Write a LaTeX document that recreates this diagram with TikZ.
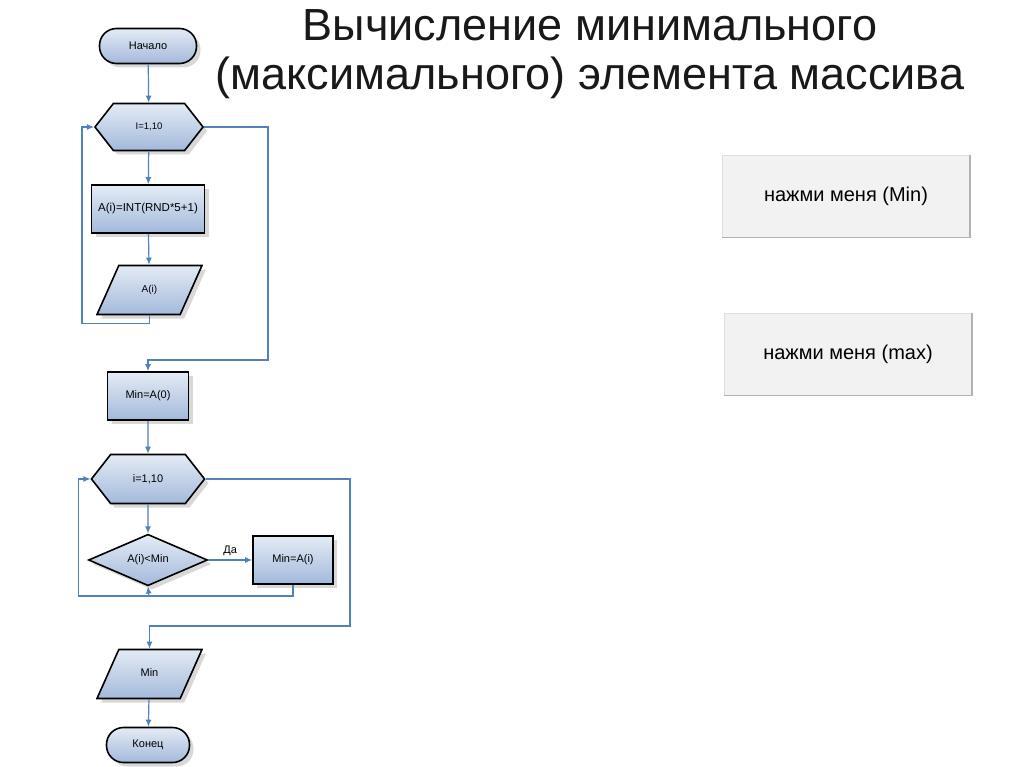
\documentclass[tikz,border=0pt]{standalone}
\usepackage{fontspec}
\setmainfont{Liberation Sans}
\usetikzlibrary{shapes.geometric,shapes.symbols,shadows,arrows.meta}
\definecolor{lineblue}{HTML}{4F81BD}
\definecolor{boxtop}{HTML}{E4EBF5}
\definecolor{boxbot}{HTML}{A3B9DB}
\begin{document}
\begin{tikzpicture}[x=1pt, y=-1pt,
  main/.style = {draw=black, line width=1.6pt, top color=boxtop, bottom color=boxbot,
    drop shadow={shadow xshift=4pt, shadow yshift=-4pt, opacity=0.3},
    font=\fontsize{11}{13}\selectfont, inner sep=0pt},
  term/.style = {main, rectangle, rounded corners=17pt, minimum width=97pt, minimum height=35pt},
  proc/.style = {main, rectangle, minimum height=48pt},
  loop/.style = {main, signal, signal to=west and east, signal pointer angle=104,
    minimum width=108pt, minimum height=47pt},
  io/.style = {main, trapezium, trapezium left angle=66, trapezium right angle=114,
    trapezium stretches body, text height=8pt, text depth=2.5pt, inner ysep=19.25pt,
    minimum width=105pt},
  cond/.style = {main, diamond, minimum width=119pt, minimum height=48pt},
  btn/.style = {rectangle, fill=gray!10, draw=gray!25, line width=0.8pt,
    minimum width=247pt, minimum height=82pt, font=\fontsize{20}{24}\selectfont},
  arr/.style = {draw=lineblue, line width=1.2pt, -{Latex[length=7pt,width=6pt]}},
  line/.style = {draw=lineblue, line width=1.2pt}]
\useasboundingbox[fill=white] (0,0) rectangle (1024,767);

\node[font=\fontsize{45}{49}\selectfont, text=black!90, align=center, anchor=base] (0) at (590,90)
  {Вычисление минимального\\(максимального) элемента массива};

\node[term] (1) at (148,46) {Начало};
\node[loop, font=\fontsize{9.5}{11}\selectfont] (2) at (149,127) {I=1,10};
\node[proc, minimum width=113pt, font=\fontsize{11.5}{14}\selectfont] (3) at (148,209) {A(i)=INT(RND*5+1)};
\node[io, font=\fontsize{10}{12}\selectfont] (4) at (149.5,290) {A(i)};
\node[proc, minimum width=81pt] (5) at (148,396) {Min=A(0)};
\node[loop, minimum width=113pt, minimum height=49pt] (6) at (148,479) {i=1,10};
\node[cond] (7) at (148,560) {A(i)<Min};
\node[proc, minimum width=80pt] (8) at (293,560) {Min=A(i)};
\node[io] (9) at (149.5,674) {Min};
\node[term, minimum width=83pt] (10) at (148,745) {Конец};

\node[btn] (11) at (846,196) {нажми меня (Min)};
\node[btn] (12) at (848,354) {нажми меня (max)};
\draw[gray!60, line width=1.6pt] (11.north east) -- (11.south east) -- (11.south west);
\draw[gray!60, line width=1.6pt] (12.north east) -- (12.south east) -- (12.south west);

\draw[arr] (1) -- (2);
\draw[arr] (2) -- (3);
\draw[arr] (3) -- (4);
\draw[arr] (4.south) -- ++(0,8) -| ([xshift=-12pt]2.west) -- (2.west);
\draw[arr] (2.east) -| (268,360) -| (5.north);
\draw[arr] (5) -- (6);
\draw[arr] (6) -- (7);
\draw[arr] (7) -- node[above, font=\fontsize{11}{13}\selectfont] {Да} (8);
\coordinate (13) at (149,596);
\draw[line] (8.south) |- (13);
\draw[arr] (13) -- (7.south);
\draw[arr] (13) -| ([xshift=-12pt]6.west) -- (6.west);
\draw[arr] (6.east) -| (350,626) -| (9.north);
\draw[arr] (9) -- (10);
\end{tikzpicture}
\end{document}
